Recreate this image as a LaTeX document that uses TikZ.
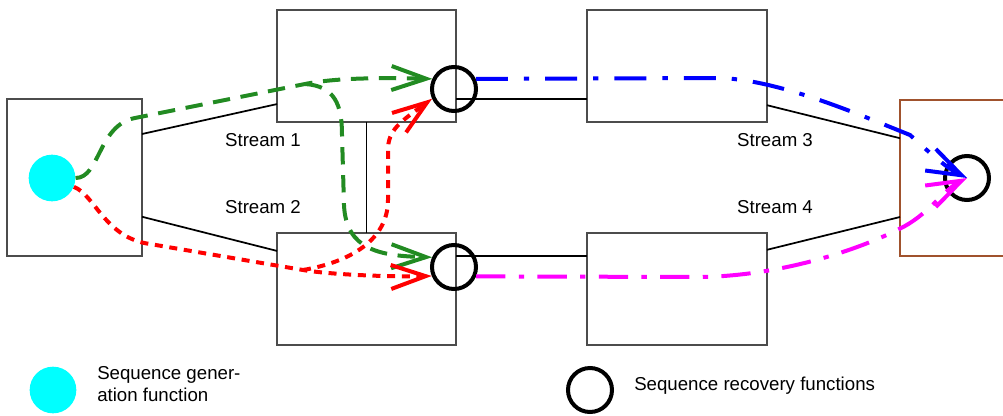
\documentclass[tikz,border=0pt]{standalone}
\usepackage{fontspec}
\setmainfont{Liberation Sans}
\usetikzlibrary{arrows.meta,calc}
\definecolor{cgreen}{HTML}{228B22}
\definecolor{cbrown}{HTML}{A0522D}
\definecolor{ccyan}{HTML}{00FFFF}
\definecolor{cmag}{HTML}{FF00FF}
\begin{document}
\begin{tikzpicture}[x=0.75pt,y=-0.75pt,
  box/.style={draw=black!70,line width=1pt,rectangle,inner sep=0pt,outer sep=0pt},
  link/.style={line width=1.3pt},
  rec/.style={circle,draw,line width=3pt,minimum size=33pt,inner sep=0pt},
  gen/.style={circle,fill=ccyan,minimum size=35pt,inner sep=0pt},
  lbl/.style={font=\fontsize{14}{16.5}\selectfont,inner sep=0pt},
  flow/.style={line width=3pt,-{Straight Barb[length=26pt,width=18pt]}},
  gflow/.style={flow,draw=cgreen,dash pattern=on 13pt off 8pt},
  rflow/.style={flow,draw=red,dash pattern=on 6pt off 5pt},
  bflow/.style={flow,draw=blue,dash pattern=on 24pt off 12pt on 4pt off 12pt},
  mflow/.style={flow,draw=cmag,dash pattern=on 22pt off 10pt on 4pt off 10pt}]
\clip (0,0) rectangle (1003,415);
% boxes
\node[box,minimum width=101.25pt,minimum height=117.75pt] (lbox) at (74.5,177.5) {};
\node[box,minimum width=134.25pt,minimum height=84pt] (b1) at (366.5,66) {};
\node[box,minimum width=134.25pt,minimum height=84pt] (b2) at (366.5,289) {};
\node[box,minimum width=135pt,minimum height=84pt] (b3) at (677,66) {};
\node[box,minimum width=135pt,minimum height=84pt] (b4) at (677,289) {};
\node[box,draw=cbrown,minimum width=120pt,minimum height=117pt] (rbox) at (980,178) {};
% links
\draw[link] ($(lbox.north east)!0.223!(lbox.south east)$) -- ($(b1.north west)!0.84!(b1.south west)$);
\draw[link] ($(lbox.north east)!0.75!(lbox.south east)$) -- ($(b2.north west)!0.16!(b2.south west)$);
\draw[link] (b1.south) -- (b2.north);
\draw[link] ($(b1.north east)!0.795!(b1.south east)$) -- ($(b3.north west)!0.795!(b3.south west)$);
\draw[link] ($(b2.north east)!0.205!(b2.south east)$) -- ($(b4.north west)!0.205!(b4.south west)$);
\draw[link] ($(b3.north east)!0.85!(b3.south east)$) -- ($(rbox.north west)!0.245!(rbox.south west)$);
\draw[link] ($(b4.north east)!0.15!(b4.south east)$) -- ($(rbox.north west)!0.75!(rbox.south west)$);
% labels
\node[lbl] (s1) at (263,140) {Stream 1};
\node[lbl] (s2) at (263,207) {Stream 2};
\node[lbl] (s3) at (775,140) {Stream 3};
\node[lbl] (s4) at (775,207) {Stream 4};
% functions
\node[gen] (src) at (52,178) {};
\node[rec] (c1) at (454,89) {};
\node[rec] (c2) at (454,267) {};
\node[rec] (c3) at (967,178) {};
% flows
\coordinate (gsplit) at (305,84);
\coordinate (rsplit) at (303,270);
\draw[gflow] (src.east) .. controls (100,178) and (98,125) .. (135,118) -- (gsplit) .. controls (340,77) and (390,78) .. (c1.155);
\draw[gflow] (gsplit) .. controls (335,86) and (342,105) .. (342,135) -- (344,205) .. controls (346,250) and (380,256) .. (c2.156);
\draw[rflow] (src.-22) .. controls (95,195) and (105,238) .. (150,244) -- (rsplit) .. controls (330,274.6) and (390,277) .. (c2.202);
\draw[rflow] (rsplit) .. controls (350,262) and (388,240) .. (388,200) -- (388,150) .. controls (388,130) and (400,122) .. (c1.204);
\draw[bflow] (c1.25) -- (720,78) .. controls (780,80) and (860,115) .. (910,135) .. controls (930,153) and (945,167) .. (c3.center);
\draw[mflow] (c2.-23) -- (700,277) .. controls (780,276) and (860,250) .. (905,226) .. controls (930,212) and (945,189) .. (c3.center);
% legend
\node[gen] (lgen) at (53,390) {};
\node[lbl,anchor=west,align=left] (lgent) at (97,384) {Sequence gener-\\ation function};
\node[rec] (lrec) at (590,390) {};
\node[lbl,anchor=west] (lrect) at (634,386) {Sequence recovery functions};
\end{tikzpicture}
\end{document}
